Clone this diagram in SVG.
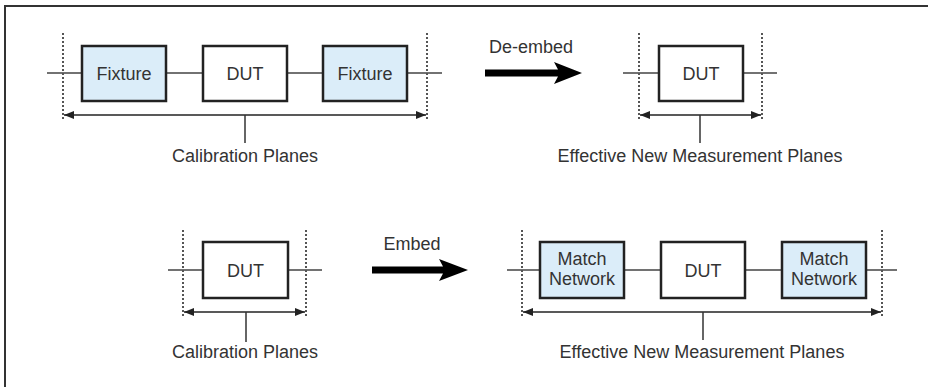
<svg xmlns="http://www.w3.org/2000/svg" width="928" height="387" viewBox="0 0 928 387">
  <defs>
    <marker id="tip" viewBox="0 0 10 8" refX="10" refY="4" markerWidth="10" markerHeight="8" markerUnits="userSpaceOnUse" orient="auto-start-reverse">
      <path d="M0,0 L10,4 L0,8 Z" fill="#222"/>
    </marker>
    <style>
      .frame { stroke: #333; stroke-width: 2; fill: none; }
      .box { stroke: #222; stroke-width: 2.5; fill: #fff; }
      .box.blue { fill: #dbedf9; }
      .lead { stroke: #444; stroke-width: 1.5; fill: none; }
      .plane { stroke: #555; stroke-width: 2; stroke-dasharray: 2 2; fill: none; }
      .span { stroke: #222; stroke-width: 1.5; fill: none; marker-start: url(#tip); marker-end: url(#tip); }
      .tick { stroke: #333; stroke-width: 1.5; }
      .big { fill: #000; }
      text { font-family: "Liberation Sans", Arial, sans-serif; font-size: 18px; fill: #333; text-anchor: middle; }
    </style>
  </defs>

  <rect width="928" height="387" fill="#fff"/>
  <!-- outer frame: top and left edges only -->
  <path class="frame" d="M5,387 V6 H928"/>

  <!-- leads, planes and spans -->
  <g id="connectors">
    <!-- top-left chain -->
    <path class="lead" d="M47,73 H82 M166,73 H203 M287,73 H323 M407,73 H442"/>
    <path class="plane" d="M63,33 V121 M427,33 V121"/>
    <path class="span" d="M64,115 H426"/>
    <path class="tick" d="M245,115 V143"/>
    <!-- top-right chain -->
    <path class="lead" d="M623,73 H659 M743,73 H777"/>
    <path class="plane" d="M639,33 V121 M762,33 V121"/>
    <path class="span" d="M640,115 H761"/>
    <path class="tick" d="M700,115 V143"/>
    <!-- bottom-left chain -->
    <path class="lead" d="M168,270 H203 M288,270 H322"/>
    <path class="plane" d="M183,230 V318 M306,230 V318"/>
    <path class="span" d="M184,312 H305"/>
    <path class="tick" d="M246,312 V342"/>
    <!-- bottom-right chain -->
    <path class="lead" d="M507,270 H540 M624,270 H661 M745,270 H782 M866,270 H897"/>
    <path class="plane" d="M522,230 V318 M882,230 V318"/>
    <path class="span" d="M523,312 H881"/>
    <path class="tick" d="M703,312 V340"/>
    <!-- process arrows -->
    <polygon class="big" points="485,69.5 558,69.5 554,62 582,73 554,84 558,76.5 485,76.5"/>
    <polygon class="big" points="372,266.5 443,266.5 439,259 468,270 439,281 443,273.5 372,273.5"/>
  </g>

  <!-- top row: calibrated chain -->
  <g id="fixture-left">
    <rect class="box blue" x="82" y="46" width="84" height="55"/>
    <text x="124" y="80">Fixture</text>
  </g>
  <g id="dut-top-left">
    <rect class="box" x="203" y="46" width="84" height="55"/>
    <text x="245" y="80">DUT</text>
  </g>
  <g id="fixture-right">
    <rect class="box blue" x="323" y="46" width="84" height="55"/>
    <text x="365" y="80">Fixture</text>
  </g>
  <g id="label-cal-top">
    <text x="245" y="162">Calibration Planes</text>
  </g>
  <g id="label-deembed">
    <text x="531" y="53">De-embed</text>
  </g>
  <g id="dut-top-right">
    <rect class="box" x="659" y="46" width="84" height="55"/>
    <text x="701" y="80">DUT</text>
  </g>
  <g id="label-eff-top">
    <text x="700" y="162">Effective New Measurement Planes</text>
  </g>

  <!-- bottom row: embedding -->
  <g id="dut-bottom-left">
    <rect class="box" x="203" y="242" width="85" height="56"/>
    <text x="245.5" y="277">DUT</text>
  </g>
  <g id="label-cal-bottom">
    <text x="245" y="358">Calibration Planes</text>
  </g>
  <g id="label-embed">
    <text x="412" y="250">Embed</text>
  </g>
  <g id="match-left">
    <rect class="box blue" x="540" y="242" width="84" height="56"/>
    <text x="582" y="265">Match</text>
    <text x="582" y="285">Network</text>
  </g>
  <g id="dut-bottom-right">
    <rect class="box" x="661" y="242" width="84" height="56"/>
    <text x="703" y="277">DUT</text>
  </g>
  <g id="match-right">
    <rect class="box blue" x="782" y="242" width="84" height="56"/>
    <text x="824" y="265">Match</text>
    <text x="824" y="285">Network</text>
  </g>
  <g id="label-eff-bottom">
    <text x="702" y="358">Effective New Measurement Planes</text>
  </g>
</svg>
